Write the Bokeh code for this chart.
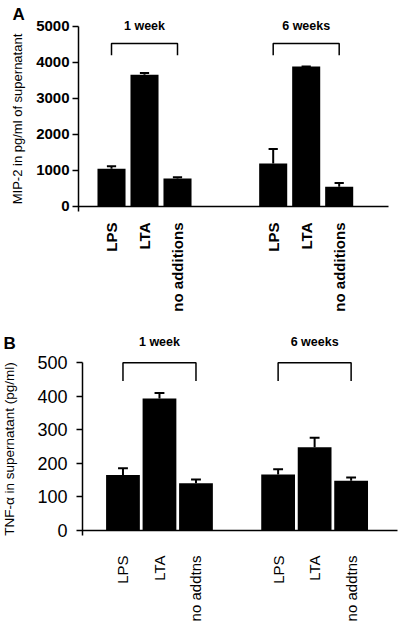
import math
from bokeh.plotting import figure
from bokeh.layouts import column
from bokeh.models import Range1d, FixedTicker, Label
from bokeh.core.properties import value
from bokeh.embed import file_html
from bokeh.resources import INLINE

FONT = "Liberation Sans"

# ---------------- data ----------------
groups = ["1 week", "6 weeks"]

cats_a = ["LPS", "LTA", "no additions"]
mip2 = [1050, 3660, 780, 1195, 3890, 550]
mip2_err = [70, 45, 35, 405, 0, 105]
ticks_a = [0, 1000, 2000, 3000, 4000, 5000]

cats_b = ["LPS", "LTA", "no addtns"]
tnf = [165, 393, 141, 167, 248, 148]
tnf_err = [20, 16, 11, 15, 28, 10]
ticks_b = [0, 100, 200, 300, 400, 500]


def build(cats, vals, errs, yticks, ylabel, letter, *, step, group_offset,
          first, xr, yr, axis_x, axis_end, ybound_low, bar_w, cap_hw,
          bracket, glabel_y, letter_xy, tick_font, tick_style,
          tick_standoff, cat_font, cat_style, cat_standoff, ylab_font,
          ylab_standoff, width, height):
    p = figure(width=width, height=height, output_backend="svg",
               toolbar_location=None, x_range=Range1d(*xr),
               y_range=Range1d(*yr), min_border=0)
    p.xgrid.grid_line_color = None
    p.ygrid.grid_line_color = None
    p.outline_line_color = None
    p.background_fill_color = "white"
    p.border_fill_color = "white"
    p.min_border_left = 0
    p.min_border_right = 0
    p.min_border_top = 0
    p.min_border_bottom = 0

    pos, labels = [], []
    for g in range(len(groups)):
        for i, c in enumerate(cats):
            pos.append(first + g * group_offset + i * step)
            labels.append(c)

    # bars
    p.vbar(x=pos, top=vals, bottom=0, width=bar_w, fill_color="black",
           line_color=None)
    # error bars (upper only)
    tops = [v + e for v, e in zip(vals, errs)]
    p.segment(x0=pos, y0=vals, x1=pos, y1=tops, line_color="black",
              line_width=2)
    p.segment(x0=[x - cap_hw for x in pos], y0=tops,
              x1=[x + cap_hw for x in pos], y1=tops, line_color="black",
              line_width=2)

    # brackets + group labels
    n = len(cats)
    xs, ys, cx = [], [], []
    for g in range(len(groups)):
        a = pos[g * n]
        b = pos[g * n + n - 1]
        xs.append([a, a, b, b])
        ys.append([bracket[0], bracket[1], bracket[1], bracket[0]])
        cx.append((a + b) / 2)
    p.multi_line(xs=xs, ys=ys, line_color="black", line_width=1.5)
    p.text(x=cx, y=[glabel_y] * len(cx), text=groups,
           text_font=value(FONT), text_font_style="bold",
           text_font_size="12.5px", text_align="center",
           text_baseline="middle", text_color="black")

    # panel letter
    p.add_layout(Label(x=letter_xy[0], y=letter_xy[1], text=letter,
                       text_font=FONT, text_font_style="bold",
                       text_font_size="17px", text_baseline="top",
                       text_align="left", text_color="black"))

    # y axis (fixed inside the frame so the margin area is usable)
    ya = p.yaxis[0]
    ya.fixed_location = axis_x
    ya.ticker = FixedTicker(ticks=yticks)
    ya.bounds = (ybound_low, yticks[-1])
    ya.minor_tick_line_color = None
    ya.major_tick_in = 0
    ya.major_tick_out = 6
    ya.major_tick_line_width = 1.5
    ya.axis_line_width = 1.5
    ya.major_label_standoff = tick_standoff
    ya.major_label_text_font = FONT
    ya.major_label_text_font_size = tick_font
    ya.major_label_text_font_style = tick_style
    ya.major_label_text_color = "black"
    ya.axis_label = ylabel
    ya.axis_label_text_font = FONT
    ya.axis_label_text_font_size = ylab_font
    ya.axis_label_text_font_style = "normal"
    ya.axis_label_text_color = "black"
    ya.axis_label_standoff = ylab_standoff

    # x axis (fixed at zero)
    xa = p.xaxis[0]
    xa.fixed_location = 0
    xa.bounds = (axis_x, axis_end)
    xa.ticker = FixedTicker(ticks=pos)
    xa.major_label_overrides = {x: l for x, l in zip(pos, labels)}
    xa.major_label_orientation = math.pi / 2
    xa.major_tick_line_color = None
    xa.minor_tick_line_color = None
    xa.axis_line_width = 1.5
    xa.major_label_standoff = cat_standoff
    xa.major_label_text_font = FONT
    xa.major_label_text_font_size = cat_font
    xa.major_label_text_font_style = cat_style
    xa.major_label_text_color = "black"
    return p


pa = build(cats_a, mip2, mip2_err, ticks_a,
           "MIP-2 in pg/ml of supernatant", "A",
           step=10, group_offset=49, first=10, xr=(-23.64, 97.58),
           yr=(-3111, 5722), axis_x=0, axis_end=93.9, ybound_low=-140,
           bar_w=8.5, cap_hw=1.4, bracket=(4200, 4530), glabel_y=5000,
           letter_xy=(-20, 5600),
           tick_font="15px", tick_style="bold", tick_standoff=3,
           cat_font="15px", cat_style="bold", cat_standoff=10,
           ylab_font="13px", ylab_standoff=8, width=400, height=318)

pb = build(cats_b, tnf, tnf_err, ticks_b,
           "TNF-\u03b1 in supernatant (pg/ml)", "B",
           step=20, group_offset=85, first=20, xr=(-47.1, 172.05),
           yr=(-288.7, 631), axis_x=-2.2, axis_end=170.4, ybound_low=-15,
           bar_w=18.5, cap_hw=2.7, bracket=(445, 499),
           glabel_y=562, letter_xy=(-45.5, 584),
           tick_font="18px", tick_style="normal", tick_standoff=9,
           cat_font="15px", cat_style="normal", cat_standoff=19,
           ylab_font="13.5px", ylab_standoff=17, width=400, height=309)

layout = column(pa, pb, spacing=0)
open("out.html", "w").write(file_html(layout, INLINE))
